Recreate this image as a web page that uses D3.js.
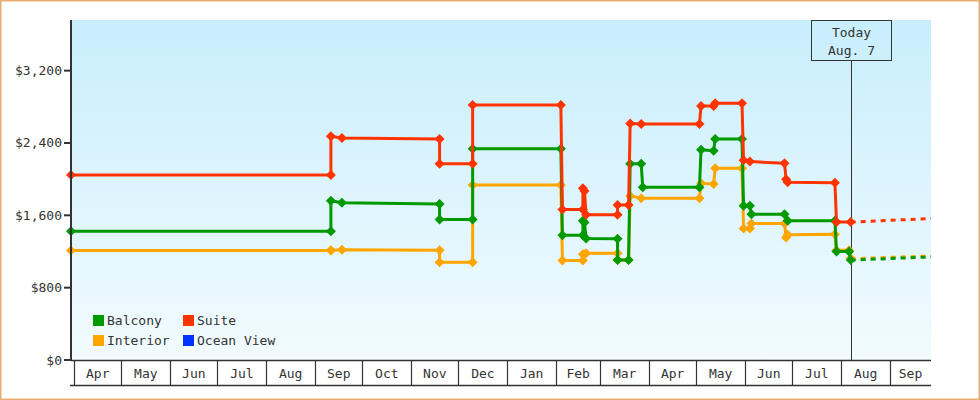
<!DOCTYPE html>
<html>
<head>
<meta charset="utf-8">
<script src="https://cdn.jsdelivr.net/npm/d3@7"></script>
<style>
  html, body { margin: 0; padding: 0; background: #fff; }
  svg { display: block; }
  text { font-family: "DejaVu Sans Mono", monospace; font-size: 13px; fill: #333; }
</style>
</head>
<body>
<svg id="chart" width="980" height="400"></svg>
<script>
// ---------------- DATA ----------------
const seriesNames = ["Balcony", "Suite", "Interior", "Ocean View"];
const seriesColors = ["#009900", "#ff3300", "#ffa500", "#0033ff"];

const suiteDates = ["2024-03-30","2024-09-11","2024-09-11","2024-09-18","2024-11-19","2024-11-19",
  "2024-12-10","2024-12-10","2025-02-04","2025-02-05","2025-02-18","2025-02-18","2025-02-19","2025-02-20",
  "2025-03-12","2025-03-12","2025-03-19","2025-03-20","2025-03-27","2025-05-03","2025-05-04","2025-05-12",
  "2025-05-13","2025-05-30","2025-05-31","2025-06-04","2025-06-26","2025-06-27","2025-06-28","2025-07-28",
  "2025-07-29","2025-08-07"];
const suitePrices = [2045,2045,2475,2455,2445,2170,
  2170,2820,2820,1665,1665,1900,1870,1605,
  1605,1715,1715,2615,2610,2610,2810,2810,
  2840,2840,2210,2195,2175,2000,1965,1960,
  1525,1525];

const balconyDates = ["2024-03-30","2024-09-11","2024-09-11","2024-09-18","2024-11-19","2024-11-19",
  "2024-12-10","2024-12-10","2025-02-04","2025-02-05","2025-02-18","2025-02-18","2025-02-19","2025-02-20",
  "2025-03-12","2025-03-12","2025-03-19","2025-03-20","2025-03-27","2025-03-28","2025-05-03","2025-05-04",
  "2025-05-12","2025-05-13","2025-05-30","2025-05-31","2025-06-04","2025-06-05","2025-06-26","2025-06-28",
  "2025-07-28","2025-07-29","2025-08-06","2025-08-07"];
const balconyPrices = [1425,1425,1760,1740,1725,1555,
  1555,2335,2335,1380,1380,1540,1520,1345,
  1340,1105,1105,2170,2170,1910,1910,2325,
  2315,2445,2445,1705,1705,1612,1612,1540,
  1540,1200,1200,1105];

const interiorDates = ["2024-03-30","2024-09-11","2024-09-11","2024-09-18","2024-11-19","2024-11-19",
  "2024-12-10","2024-12-10","2025-02-04","2025-02-05","2025-02-18","2025-02-18","2025-02-20",
  "2025-03-12","2025-03-12","2025-03-19","2025-03-20","2025-03-27","2025-05-03","2025-05-04",
  "2025-05-12","2025-05-13","2025-05-30","2025-05-31","2025-06-04","2025-06-05","2025-06-26","2025-06-27",
  "2025-06-28","2025-07-28","2025-07-29","2025-08-06","2025-08-07"];
const interiorPrices = [1210,1210,1215,1220,1215,1080,
  1080,1935,1935,1100,1100,1170,1180,
  1180,1105,1105,1815,1790,1790,1955,
  1945,2120,2120,1455,1455,1510,1510,1355,
  1385,1390,1215,1215,1125];

const oceanViewDates = [];
const oceanViewPrices = [];

// projections after today
const projectionDates = ["2025-08-07", "2025-09-27"];
const suiteProjection = [1525, 1565];
const balconyProjection = [1105, 1140];
const interiorProjection = [1120, 1150];

const xDomain = ["2024-03-30", "2025-09-27"];
const yTicks = [0, 800, 1600, 2400, 3200];
const yMax = 3760;
const todayDate = "2025-08-07";
const todayLabel = ["Today", "Aug. 7"];

// ---------------- CHART ----------------
(function () {
const parse = d3.timeParse("%Y-%m-%d");
const svg = d3.select("#chart");
const W = 980, H = 400;
const pL = 71, pR = 931, pT = 20, pB = 360;

const x = d3.scaleTime().domain(xDomain.map(parse)).range([pL, pR]);
const y = d3.scaleLinear().domain([0, yMax]).range([pB, pT]);

// outer border
svg.append("rect").attr("x", 0.75).attr("y", 0.75).attr("width", W - 1.5).attr("height", H - 1.5)
  .attr("fill", "#fff").attr("stroke", "#e8ac70").attr("stroke-width", 1.5);

// gradient background
const defs = svg.append("defs");
const grad = defs.append("linearGradient").attr("id", "bg").attr("x1", 0).attr("y1", 0).attr("x2", 0).attr("y2", 1);
grad.append("stop").attr("offset", "0%").attr("stop-color", "#c8eefc");
grad.append("stop").attr("offset", "100%").attr("stop-color", "#f2fbff");
svg.append("rect").attr("x", pL).attr("y", pT).attr("width", pR - pL).attr("height", pB - pT)
  .attr("fill", "url(#bg)");

// today marker
const tx = Math.round(x(parse(todayDate))) + 0.5;
svg.append("line").attr("x1", tx).attr("x2", tx).attr("y1", 60).attr("y2", pB)
  .attr("stroke", "#333").attr("stroke-width", 1);
svg.append("rect").attr("x", tx - 40).attr("y", pT + 0.5).attr("width", 80).attr("height", 40)
  .attr("fill", "none").attr("stroke", "#333").attr("stroke-width", 1);
svg.append("text").attr("x", tx).attr("y", 37).attr("text-anchor", "middle").text(todayLabel[0]);
svg.append("text").attr("x", tx).attr("y", 54.5).attr("text-anchor", "middle").text(todayLabel[1]);

// series
function build(dates, prices) { return dates.map((d, i) => ({ date: parse(d), value: prices[i] })); }
const line = d3.line().x(d => x(d.date)).y(d => y(d.value));
const diamond = "M0,-5L5,0L0,5L-5,0Z";

const drawOrder = [
  { dates: interiorDates, prices: interiorPrices, proj: interiorProjection, color: seriesColors[2] },
  { dates: oceanViewDates, prices: oceanViewPrices, proj: null, color: seriesColors[3] },
  { dates: balconyDates, prices: balconyPrices, proj: balconyProjection, color: seriesColors[0] },
  { dates: suiteDates, prices: suitePrices, proj: suiteProjection, color: seriesColors[1] }
];

drawOrder.forEach(s => {
  if (s.proj) {
    const p = build(projectionDates, s.proj);
    svg.append("path").attr("d", line(p)).attr("fill", "none").attr("stroke", s.color)
      .attr("stroke-width", 3).attr("stroke-dasharray", "5,5");
  }
});

drawOrder.forEach(s => {
  const data = build(s.dates, s.prices);
  if (!data.length) return;
  const g = svg.append("g");
  g.append("path").attr("d", line(data)).attr("fill", "none").attr("stroke", s.color)
    .attr("stroke-width", 3).attr("stroke-linejoin", "round");
  g.selectAll("path.pt").data(data).join("path").attr("class", "pt")
    .attr("d", diamond).attr("fill", s.color)
    .attr("transform", d => `translate(${x(d.date)},${y(d.value)})`);
});

// y axis
svg.append("line").attr("x1", pL).attr("x2", pL).attr("y1", pT).attr("y2", pB + 1)
  .attr("stroke", "#333").attr("stroke-width", 2);
const fmt = v => "$" + d3.format(",")(v);
yTicks.forEach(v => {
  svg.append("line").attr("x1", pL - 7).attr("x2", pL).attr("y1", y(v)).attr("y2", y(v))
    .attr("stroke", "#333").attr("stroke-width", 2);
  svg.append("text").attr("x", 62).attr("y", y(v) + 4.5).attr("text-anchor", "end").text(fmt(v));
});

// x axis band
svg.append("line").attr("x1", pL).attr("x2", pR).attr("y1", pB + 0.5).attr("y2", pB + 0.5)
  .attr("stroke", "#333").attr("stroke-width", 1.5);
svg.append("line").attr("x1", 70).attr("x2", pR).attr("y1", 385.5).attr("y2", 385.5)
  .attr("stroke", "#333").attr("stroke-width", 1.5);
const d0 = x.domain()[0], d1 = x.domain()[1];
const months = d3.timeMonth.range(d3.timeMonth.ceil(d0), d1);
months.forEach(m => {
  const mx = Math.round(x(m)) + 0.5;
  svg.append("line").attr("x1", mx).attr("x2", mx).attr("y1", pB).attr("y2", 385.5)
    .attr("stroke", "#333").attr("stroke-width", 1.2);
  const next = d3.timeMonth.offset(m, 1);
  const cx = (x(m) + x(next < d1 ? next : d1)) / 2;
  svg.append("text").attr("x", cx).attr("y", 377.5).attr("text-anchor", "middle")
    .text(d3.timeFormat("%b")(m));
});

// legend
const legendPos = [[93, 315], [183, 315], [93, 335], [183, 335]];
seriesNames.forEach((n, i) => {
  const [lx, ly] = legendPos[i];
  svg.append("rect").attr("x", lx).attr("y", ly).attr("width", 11).attr("height", 11).attr("fill", seriesColors[i]);
  svg.append("text").attr("x", lx + 14).attr("y", ly + 10).text(n);
});
})();
</script>
</body>
</html>
